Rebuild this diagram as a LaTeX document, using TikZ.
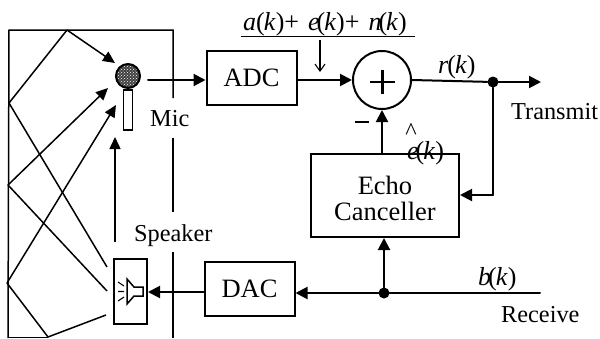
\documentclass[tikz,border=0pt]{standalone}
\usepackage{fontspec}
\setmainfont{Liberation Serif}
\usetikzlibrary{arrows.meta,patterns}
\tikzset{
 x=1pt,y=-1pt,
 wire/.style={line width=2pt,line cap=round},
 thinwire/.style={line width=1.5pt},
 flow/.style={wire,-{Triangle[length=12pt,width=12pt]}},
 blockbox/.style={draw,line width=2pt,minimum width=90pt,minimum height=54pt,inner sep=0pt,font=\fontsize{26.5}{26.5}\selectfont},
 lbl/.style={inner sep=0pt,font=\fontsize{24.3}{26}\selectfont},
 ital/.style={inner sep=0pt,font=\fontsize{26}{26}\selectfont},
 dotnode/.style={circle,fill=black,inner sep=0pt,minimum size=11pt}
}
\begin{document}
\begin{tikzpicture}
\useasboundingbox (0,0) rectangle (600,338);
% room
\coordinate (rTL) at (9,30); \coordinate (rTR) at (173,30); \coordinate (rBL) at (8,338);
\coordinate (rBa) at (173,98); \coordinate (rBb) at (173,138); \coordinate (rBc) at (173,212); \coordinate (rBd) at (173,252); \coordinate (rBe) at (173,338);
\draw[thinwire] (rBL) -- (rTL) -- (rTR) -- (rBa);
\draw[thinwire] (rBb) -- (rBc);
\draw[thinwire] (rBd) -- (rBe);
\draw[thinwire] (8,337.5) -- (48,337.5);
% mic
\node[circle,draw,line width=2pt,minimum size=24pt,inner sep=0pt,preaction={fill=black!75},pattern=crosshatch dots,pattern color=white] (mic) at (128,76) {};
\node[draw,line width=1.6pt,minimum width=9pt,minimum height=40pt,inner sep=0pt,anchor=north] (stem) at (128,89) {};
\node[lbl,anchor=base west] (micl) at (150,126) {Mic};
% blocks
\node[blockbox] (adc) at (251.5,78) {ADC};
\node[blockbox] (dac) at (249.5,289) {DAC};
\node[blockbox,minimum width=148pt,minimum height=83pt] (ec) at (385,195.5) {};
\node[inner sep=0pt,align=center,font=\fontsize{26.5}{26}\selectfont] (ectext) at (385,198) {Echo\\Canceller};
\node[circle,draw,line width=2pt,minimum size=58pt,inner sep=0pt] (sum) at (382,80) {};
\draw[line width=2.6pt] (370,82) -- (395,82) (382.5,70) -- (382.5,94);
\node[draw,line width=2pt,minimum width=33pt,minimum height=65pt,inner sep=0pt] (spk) at (130.5,291.5) {};
% speaker icon
\draw[line width=1.5pt] (127,279) -- (127,304) -- (134,296) -- (143,296) -- (143,287) -- (134,287) -- cycle;
\draw[line width=1.1pt] (124,286) -- (118,282) (124,291.5) -- (118,291.5) (124,297) -- (118,301);
% dots
\node[dotnode] (d1) at (493,82) {};
\node[dotnode] (d2) at (384,293) {};
\coordinate (tx) at (541,82); \coordinate (rx) at (540,293);
\coordinate (m0) at (148,80); \coordinate (ecin) at (493,195);
% connectors
\draw[flow] (m0) -- (adc.west |- m0);
\draw[flow] (adc.east |- 0,80) -- (sum.west);
\draw[wire] (sum.east) -- (d1);
\draw[flow] (d1) -- (tx);
\draw[wire] (d1) -- (ecin);
\draw[flow] (ecin) -- (ec.east |- ecin);
\draw[flow] (ec.north -| sum.south) -- (sum.south);
\draw[wire] (d2) -- (rx);
\draw[flow] (d2) -- (dac.east |- d2);
\draw[flow] (d2) -- (d2 |- ec.south);
\draw[flow] (dac.west |- 0,292) -- (spk.east |- 0,292);
% rays
\coordinate (a1) at (67,30); \coordinate (a2) at (9,103); \coordinate (a3) at (8,185); \coordinate (a4) at (7,283); \coordinate (a5) at (48,337);
\tikzset{ray/.style={line width=1.5pt},rayarrow/.style={line width=1.5pt,-{Triangle[length=12pt,width=11pt]}}}
\draw[rayarrow] (a1) -- (115,63);
\draw[ray] (a1) -- (a2) -- (107,267);
\draw[rayarrow] (a3) -- (108,88);
\draw[ray] (a3) -- (107,291);
\draw[rayarrow] (a4) -- (116,105);
\draw[ray] (a4) -- (a5) -- (106,315);
\coordinate (up0) at (115,242);
\draw[rayarrow] (up0) -- (115,137);
% signal line
\coordinate (u1) at (241,36.5); \coordinate (u2) at (415,36.5);
\draw[line width=1.3pt] (u1) -- (u2);
\coordinate (ar0) at (320,40);
\draw[line width=1.1pt,-{Straight Barb[length=7pt,width=10pt]}] (ar0) -- (320,72);
% labels
\node[ital,anchor=base west] (sig) at (243,30) {\textit{a}(\kern-1pt\textit{k})+\kern9pt\textit{e}\kern-3pt(\kern-1pt\textit{k})+\kern9pt\textit{n}\kern-3pt(\kern-1pt\textit{k})};
\node[ital,anchor=base west] (rk) at (438,73) {\textit{r}\kern-1pt(\kern-1pt\textit{k})};
\node[ital,anchor=base west] (bk) at (478,285) {\textit{b}\kern-3pt(\kern-1pt\textit{k})};
\node[ital,anchor=base west] (ek) at (407,159) {\textit{e}\kern-3pt(\kern-1pt\textit{k})};
\node[lbl,anchor=base] (hat) at (411,139) {\^{}};
\draw[line width=2pt] (355,122) -- (369,122);
\node[lbl,anchor=base west] (txl) at (511,119) {Transmit};
\node[lbl,anchor=base west] (rxl) at (501,322) {Receive};
\node[lbl,anchor=base west] (spl) at (134,241) {Speaker};
\end{tikzpicture}
\end{document}
